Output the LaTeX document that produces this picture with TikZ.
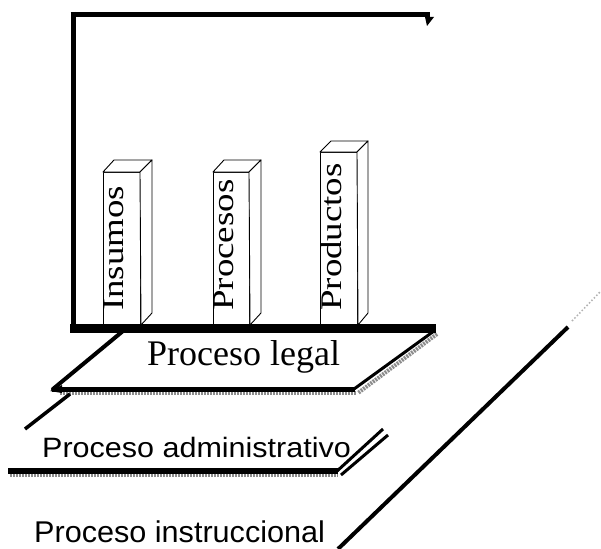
\documentclass[tikz,border=0pt]{standalone}
\usepackage{fontspec}
\setmainfont{Liberation Serif}
\newfontfamily\arialfont{Liberation Sans}
\usepackage{graphicx}
\tikzset{
  frameline/.style={line width=5pt, line cap=butt},
  barface/.style={draw=black, line width=0.9pt, fill=white, line join=round},
  planeedge/.style={line width=4pt, line cap=round},
  slantline/.style={line width=3pt, line cap=butt},
  shadowband/.style={draw=black!45, line width=4pt, dash pattern=on 2pt off 1pt},
  barlabel/.style={rotate=90, anchor=base west, inner sep=0pt, font=\fontsize{30}{30}\selectfont},
  serifbig/.style={anchor=base west, inner sep=0pt, font=\fontsize{36}{40}\selectfont},
  sanslabel/.style={anchor=base west, inner sep=0pt, font=\arialfont\fontsize{28}{32}\selectfont}
}
\begin{document}
\begin{tikzpicture}[x=1pt,y=-1pt]
\useasboundingbox (0,0) rectangle (601,548);
\fill[white] (0,0) rectangle (601,548);

% frame
\draw[frameline] (73,12) -- (73,327);
\draw[frameline] (70.5,15) -- (430,15);
\fill (425,17) -- (434,17) -- (427,26) -- cycle;

% bars
% Insumos
\draw[barface] (103,172) rectangle (140,326);
\draw[barface] (103,172) -- (114,160) -- (152,160) -- (140,172) -- cycle;
\draw[barface] (140,172) -- (152,160) -- (152,313) -- (141,325) -- cycle;
% Procesos
\draw[barface] (213,172) rectangle (249,326);
\draw[barface] (213,172) -- (224,160) -- (261,160) -- (249,172) -- cycle;
\draw[barface] (249,172) -- (261,160) -- (261,313) -- (250,325) -- cycle;
% Productos
\draw[barface] (320,152) rectangle (357,326);
\draw[barface] (320,152) -- (331,141) -- (368,141) -- (357,152) -- cycle;
\draw[barface] (357,152) -- (368,141) -- (368,313) -- (358,325) -- cycle;

\node[barlabel] (ins) at (123,311) {\scalebox{1.23}[1]{Insumos}};
\node[barlabel] (pro) at (233,311) {\scalebox{1.23}[1]{Procesos}};
\node[barlabel] (prd) at (341,311) {\scalebox{1.23}[1]{Productos}};

% legal plane
\fill[white] (122,330) -- (435,330) -- (355,390) -- (52,390) -- cycle;
\draw[shadowband] (437,334) -- (358,393);
\draw[shadowband] (60,393) -- (356,393);
\draw[line width=3pt] (434,331) -- (354,389);
\draw[planeedge] (123,331) -- (53,389);
\draw[line width=5pt] (52,389) -- (355,389);
\fill (50,391) -- (62,385) -- (62,393) -- cycle;
\draw[line width=9pt] (70,328) -- (436,328);
\node[serifbig] (legal) at (147,365) {Proceso legal};

% administrativo plane
\draw[line width=3.5pt] (70,394) -- (25,429);
\draw[draw=black!45, line width=3pt, dash pattern=on 2pt off 1pt] (10,475) -- (338,475);
\draw[line width=6pt] (8,471) -- (338,471);
\node[sanslabel] (adm) at (42,457) {\scalebox{1.09}[1]{Proceso administrativo}};
\draw[slantline] (336,472) -- (383,429);
\draw[slantline] (341,475) -- (388,435);

% instruccional plane
\draw[line width=4pt] (338,549) -- (568,327);
\draw[draw=black!30, line width=1.5pt, dotted] (572,321) -- (600,292);
\node[sanslabel, font=\arialfont\fontsize{30}{34}\selectfont] (ins2) at (34,542) {\scalebox{1.02}[1]{Proceso instruccional}};
\end{tikzpicture}
\end{document}
